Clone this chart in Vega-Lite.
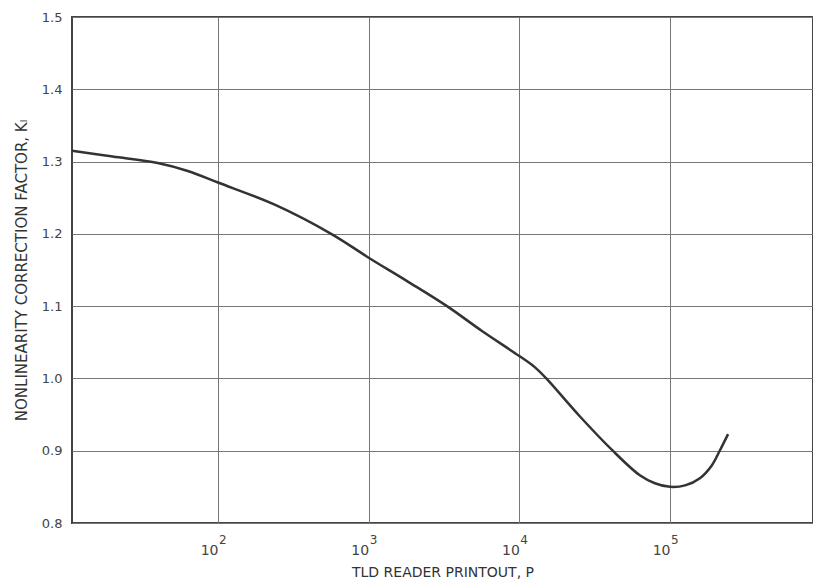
{
  "$schema": "https://vega.github.io/schema/vega-lite/v6.json",
  "width": 741,
  "height": 506,
  "autosize": "none",
  "padding": {"left": 72, "top": 17, "right": 0, "bottom": 62},
  "background": "white",
  "config": {
    "view": {"stroke": "#444444", "strokeWidth": 2},
    "font": "DejaVu Sans"
  },
  "layer": [
    {
      "data": {
        "values": [
          {"P": 10.74, "K": 1.315},
          {"P": 20, "K": 1.307},
          {"P": 39.8, "K": 1.298},
          {"P": 63, "K": 1.287},
          {"P": 100, "K": 1.271},
          {"P": 240, "K": 1.240},
          {"P": 575, "K": 1.199},
          {"P": 1000, "K": 1.167},
          {"P": 1820, "K": 1.134},
          {"P": 3310, "K": 1.100},
          {"P": 5620, "K": 1.066},
          {"P": 10000, "K": 1.031},
          {"P": 12600, "K": 1.016},
          {"P": 15100, "K": 1.000},
          {"P": 25100, "K": 0.948},
          {"P": 41700, "K": 0.900},
          {"P": 63100, "K": 0.866},
          {"P": 79400, "K": 0.855},
          {"P": 100000, "K": 0.850},
          {"P": 126000, "K": 0.852},
          {"P": 158000, "K": 0.862},
          {"P": 190000, "K": 0.880},
          {"P": 214000, "K": 0.900},
          {"P": 243000, "K": 0.923}
        ]
      },
      "mark": {"type": "line", "color": "#333333", "strokeWidth": 2.5, "interpolate": "catmull-rom"},
      "encoding": {
        "x": {
          "field": "P",
          "type": "quantitative",
          "scale": {"type": "log", "domain": [10.74, 890000], "nice": false},
          "axis": {
            "values": [100, 1000, 10000, 100000],
            "labelExpr": "'10'",
            "grid": true,
            "gridColor": "#777777",
            "gridWidth": 1,
            "gridOpacity": 1,
            "domain": false,
            "ticks": false,
            "labelFontSize": 14,
            "labelColor": "#444444",
            "labelPadding": 20,
            "labelAlign": "right",
            "title": "TLD READER PRINTOUT, P",
            "titleFontSize": 14,
            "titleFontWeight": "normal",
            "titleColor": "#333333",
            "titlePadding": 8
          }
        },
        "y": {
          "field": "K",
          "type": "quantitative",
          "scale": {"domain": [0.8, 1.5], "nice": false, "zero": false},
          "axis": {
            "values": [0.8, 0.9, 1.0, 1.1, 1.2, 1.3, 1.4, 1.5],
            "format": ".1f",
            "grid": true,
            "gridColor": "#777777",
            "gridWidth": 1,
            "gridOpacity": 1,
            "domain": false,
            "ticks": false,
            "labelFontSize": 13,
            "labelColor": "#444444",
            "labelPadding": 10,
            "title": "NONLINEARITY CORRECTION FACTOR, Kₗ",
            "titleFontSize": 15,
            "titleFontWeight": "normal",
            "titleColor": "#333333",
            "titlePadding": 12
          }
        }
      }
    },
    {
      "data": {
        "values": [
          {"P": 100, "e": "2"},
          {"P": 1000, "e": "3"},
          {"P": 10000, "e": "4"},
          {"P": 100000, "e": "5"}
        ]
      },
      "mark": {"type": "text", "clip": false, "fontSize": 12, "color": "#444444", "align": "left", "baseline": "middle", "dx": 1, "dy": 17},
      "encoding": {
        "x": {"field": "P", "type": "quantitative"},
        "y": {"datum": 0.8},
        "text": {"field": "e"}
      }
    }
  ]
}
